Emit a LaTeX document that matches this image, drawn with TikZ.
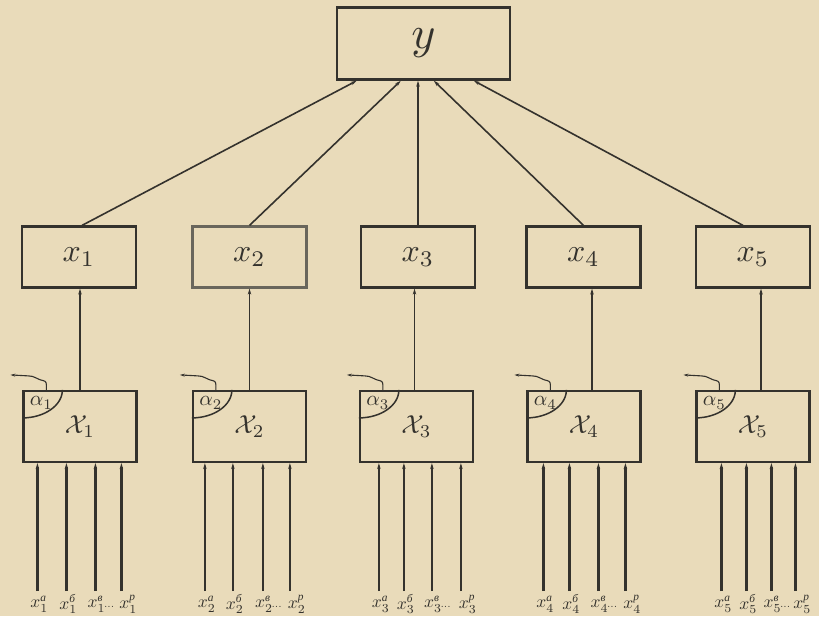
\documentclass[tikz,border=0pt]{standalone}
\usepackage{fontspec}
\newfontfamily\cyrfont{Liberation Serif}
\usetikzlibrary{arrows.meta,calc}
\definecolor{paper}{RGB}{233,219,186}
\definecolor{ink}{RGB}{52,50,45}
\definecolor{inklight}{RGB}{105,102,92}
% input label: x with subscript, Cyrillic superscript, optional trailing text
\newcommand\inlab[3]{\scalebox{1.75}{$x_{#1}^{\mbox{\cyrfont\itshape\fontsize{6.5}{6.5}\selectfont #2}}$#3}}
\newcommand\tinydots{{\fontsize{5.5}{5.5}\selectfont\kern-0.8pt...}}
\begin{document}
\begin{tikzpicture}[x=1pt,y=-1pt,
  topbox/.style={draw=ink,line width=2.4pt,minimum width=173pt,minimum height=72pt,inner sep=0pt,text=ink},
  upbox/.style={draw=ink,line width=2.2pt,minimum width=114pt,minimum height=61pt,inner sep=0pt,text=ink},
  lowbox/.style={draw=ink,line width=2.2pt,minimum width=113pt,minimum height=71pt,inner sep=0pt,text=ink},
  conn/.style={draw=ink,line width=1.6pt,-{Stealth[length=6pt,width=3.5pt]}},
  inp/.style={draw=ink,line width=2.2pt,-{Stealth[length=6pt,width=3.5pt]}},
  wig/.style={draw=ink,line width=1.1pt,-{Stealth[length=5pt,width=3pt]}},
  arcline/.style={draw=ink,line width=1.5pt},
  inlabel/.style={text=ink,inner sep=0pt}]
\useasboundingbox[fill=paper] (0,0) rectangle (819,616);

% output block
\node[topbox] (Y) at (423.5,43.5) {\scalebox{4.6}{$y$}};

% intermediate blocks
\foreach \i/\cx in {1/79,2/249.5,3/418,4/583.5,5/753}
  \node[upbox] (u\i) at (\cx,257) {\scalebox{3.2}{$x_{\i}$}};
\node[upbox,draw=inklight] at (u2) {};

% lower blocks
\foreach \i/\cx in {1/80,2/249.5,3/416.5,4/584,5/753}
  \node[lowbox] (l\i) at (\cx,426.5) {\scalebox{2.6}{$\mathcal{X}_{\i}$}};

% connectors into the output block
\coordinate (y1) at ($(Y.south west)+(21,0)$);
\coordinate (y2) at ($(Y.south west)+(65,0)$);
\coordinate (y4) at ($(Y.south west)+(98,0)$);
\coordinate (y5) at ($(Y.south west)+(138,0)$);
\draw[conn] ($(u1.north)+(3,0)$) -- (y1);
\draw[conn] (u2.north) -- (y2);
\draw[conn] (u3.north) -- (u3.north |- Y.south);
\draw[conn] (u4.north) -- (y4);
\draw[conn] ($(u5.north)+(-10,0)$) -- (y5);

% lower blocks feed the intermediate blocks
\foreach \i/\o in {1/0,2/0,3/-2,4/8,5/8}
  \draw[conn] ($(l\i.north)+(\o,0)$) coordinate (v\i) -- (v\i |- u\i.south);

% corner sector, parameter label and the small outgoing arrow
\foreach \i in {1,...,5}{
  \begin{scope}[shift={(l\i.north west)}]
    \draw[arcline] (40,0) .. controls (40,15.5) and (22,28) .. (0,28);
    \node[text=ink,inner sep=0pt] at (19,13) {\scalebox{2.1}{$\alpha_{\i}$}};
    \draw[wig] (24,0) -- (24,-5) .. controls (24,-9) and (22,-9) .. (18,-10)
      .. controls (14,-11) and (12,-14) .. (6,-14) -- (-12,-15);
  \end{scope}
}

% inputs of the lower blocks
\foreach \i/\offs in {1/{15,44,73,99},2/{13,41,71,98},3/{20,45,73,102},4/{17,43,72,99},5/{26,51,76,100}}{
  \foreach \o [count=\k] in \offs {
    \coordinate (b\i\k) at ($(l\i.south west)+(\o,128)$);
    \draw[inp] (b\i\k) -- (b\i\k |- l\i.south);
  }
}
\foreach \i in {1,...,5}{
  \node[inlabel] at ($(b\i1)+(2,13)$) {\inlab{\i}{а}{}};
  \node[inlabel] at ($(b\i2)+(2,13)$) {\inlab{\i}{б}{}};
  \node[inlabel,anchor=west] at ($(b\i3)+(-8,13)$) {\inlab{\i}{в}{\tinydots}};
  \node[inlabel] at ($(b\i4)+(7,13)$) {\inlab{\i}{р}{}};
}
\end{tikzpicture}
\end{document}
